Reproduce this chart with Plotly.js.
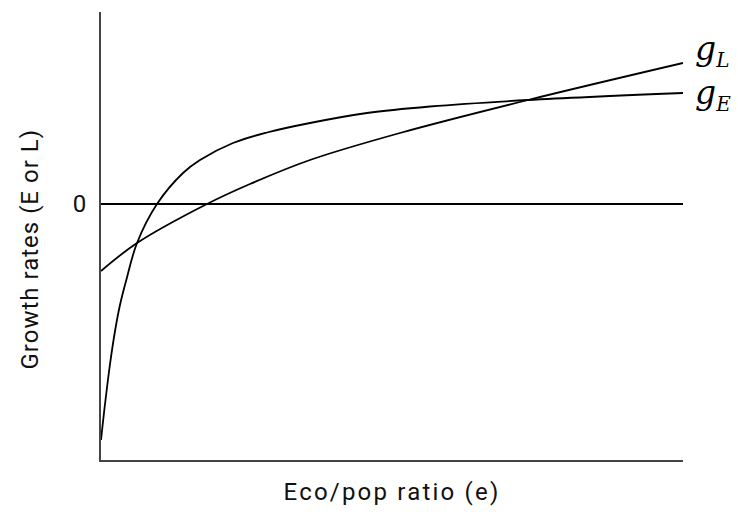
<!DOCTYPE html>
<html>
<head>
<meta charset="utf-8">
<script src="https://cdn.plot.ly/plotly-3.0.1.min.js"></script>
<style>
html,body{margin:0;padding:0;background:#fff;}
#chart{width:738px;height:516px;}
#chart .xtitle {letter-spacing: 2.2px;}
</style>
</head>
<body>
<div id="chart"></div>
<script>
// Eco/pop ratio (e), arbitrary units
const gE_x = [0, 0.069, 0.155, 0.241, 0.326, 0.43, 0.619, 0.962, 1.409, 1.701, 2.268, 2.852, 3.591, 4.57, 5.653, 7.337, 10];
const gE_y = [-2.36, -2.0, -1.6, -1.27, -1.01, -0.77, -0.39, 0, 0.31, 0.44, 0.61, 0.715, 0.81, 0.91, 0.975, 1.04, 1.11];
const gL_x = [0, 0.619, 1.821, 2.56, 3.591, 5.137, 7.337, 10];
const gL_y = [-0.67, -0.39, 0, 0.20, 0.44, 0.71, 1.04, 1.41];
const yTickVals = [0];
const yTickText = ['0'];
const xTitle = 'Eco/pop ratio (e)';
const yTitle = 'Growth rates (E or L)';
const labelL = '<i>g</i><sub><span style="font-size:20px"><i>L</i></span></sub>';
const labelE = '<i>g</i><sub><span style="font-size:20px"><i>E</i></span></sub>';

const sans = 'Roboto, "Noto Sans", sans-serif';
const serif = '"DejaVu Serif", "Liberation Serif", serif';
const traces = [
  {x: gL_x, y: gL_y, mode: 'lines', line: {color: '#000', width: 1.8, shape: 'spline', smoothing: 1}, hoverinfo: 'skip'},
  {x: gE_x, y: gE_y, mode: 'lines', line: {color: '#000', width: 1.8, shape: 'spline', smoothing: 1}, hoverinfo: 'skip'}
];
const layout = {
  width: 738, height: 516,
  margin: {l: 101, r: 55, t: 12, b: 56},
  paper_bgcolor: '#fff', plot_bgcolor: '#fff',
  showlegend: false,
  xaxis: {range: [0, 10], showgrid: false, zeroline: false, showticklabels: false, ticks: '',
    showline: true, linecolor: '#444', linewidth: 2,
    title: {text: xTitle, font: {family: sans, size: 24, color: '#111'}, standoff: 22}},
  yaxis: {range: [-2.56, 1.92], showgrid: false, zeroline: true, zerolinecolor: '#000', zerolinewidth: 1.5,
    tickvals: yTickVals, ticktext: yTickText, ticks: '', tickfont: {family: sans, size: 24, color: '#111'},
    ticklabelstandoff: 8,
    showline: true, linecolor: '#444', linewidth: 2},
  annotations: [
    {xref: 'paper', x: 0, xanchor: 'center', xshift: -71, yref: 'paper', y: 0.471, yanchor: 'middle',
     textangle: -90, text: yTitle, showarrow: false,
     font: {family: sans, size: 24, color: '#111'}},
    {xref: 'paper', x: 1, xanchor: 'left', xshift: 10, yref: 'y', y: gL_y[gL_y.length-1], yanchor: 'middle', yshift: 13,
     text: labelL, showarrow: false, font: {family: serif, size: 33, color: '#000'}},
    {xref: 'paper', x: 1, xanchor: 'left', xshift: 10, yref: 'y', y: gE_y[gE_y.length-1], yanchor: 'middle', yshift: -1,
     text: labelE, showarrow: false, font: {family: serif, size: 33, color: '#000'}}
  ]
};
Plotly.newPlot('chart', traces, layout, {displayModeBar: false, staticPlot: true}).then(function(){
  const anns = document.querySelectorAll('#chart .annotation-text');
  if (anns.length) anns[0].style.letterSpacing = '1px';
});
</script>
</body>
</html>
